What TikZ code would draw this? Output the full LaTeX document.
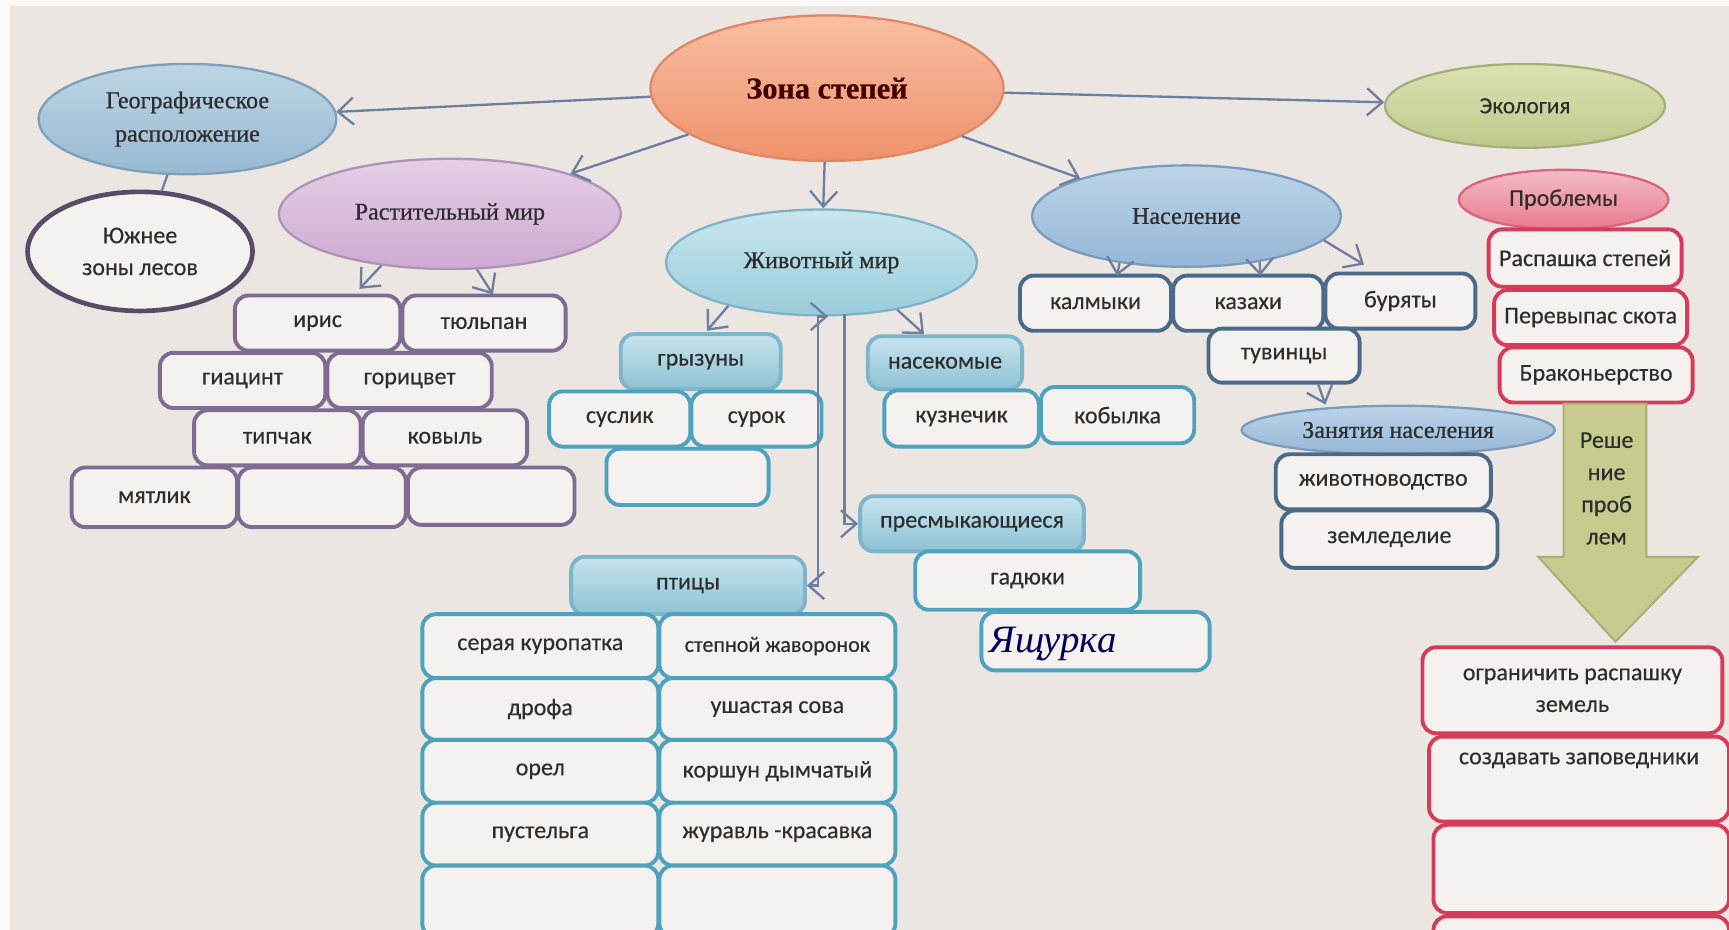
\documentclass[tikz,border=0pt]{standalone}
\usepackage{fontspec}
\setmainfont{Carlito}[FakeBold=0.35]
\newfontfamily\serf{Liberation Serif}[FakeBold=0.7]
\newfontfamily\hand{Liberation Serif}
\usetikzlibrary{shapes.geometric,arrows.meta}
\definecolor{bg}{HTML}{ECE6E2}
\definecolor{boxw}{HTML}{F4F1EF}
\definecolor{txt}{HTML}{2E2E2E}
\definecolor{cPurp}{HTML}{7E6C92}
\definecolor{cTeal}{HTML}{4FA2BE}
\definecolor{cTealH}{HTML}{7DB6CA}
\definecolor{cNavy}{HTML}{4B6A88}
\definecolor{cRed}{HTML}{D63C5A}
\definecolor{arr}{HTML}{6F7FA0}
\definecolor{tHi}{HTML}{C6E4EE}
\definecolor{tLo}{HTML}{8EC2D3}
\definecolor{zoHi}{HTML}{F8BFA2}
\definecolor{zoLo}{HTML}{F0916B}
\definecolor{zoB}{HTML}{DE8866}
\definecolor{geHi}{HTML}{BDD5E4}
\definecolor{geLo}{HTML}{97BAD2}
\definecolor{geB}{HTML}{7FA0BA}
\definecolor{raHi}{HTML}{E6CFE6}
\definecolor{raLo}{HTML}{CDAAD2}
\definecolor{raB}{HTML}{B094B8}
\definecolor{zhHi}{HTML}{C8E6EE}
\definecolor{zhLo}{HTML}{9ACCDB}
\definecolor{zhB}{HTML}{80B3C6}
\definecolor{naHi}{HTML}{BCD4E8}
\definecolor{naLo}{HTML}{95B7D6}
\definecolor{naB}{HTML}{7C9CBC}
\definecolor{ecHi}{HTML}{DCE2B4}
\definecolor{ecLo}{HTML}{BDC98A}
\definecolor{ecB}{HTML}{A6B07A}
\definecolor{prHi}{HTML}{F5BCC6}
\definecolor{prLo}{HTML}{E8798F}
\definecolor{prB}{HTML}{D8667E}
\definecolor{arF}{HTML}{C7CB8E}
\definecolor{arB}{HTML}{A9AE74}
\newcommand\bodyf{\fontsize{6.2}{8.2}\selectfont}
\newcommand\bx[7]{\node[#6, minimum width={(#4-#2)*0.01cm}, minimum height={(#5-#3)*0.01cm}] (#1) at ({(#2+#4)/2},{(#3+#5)/2}) {#7};}
\newcommand\el[7]{\node[el, #6, minimum width={2*#4*0.01cm}, minimum height={2*#5*0.01cm}] (#1) at (#2,#3) {#7};}
\tikzset{
  el/.style={ellipse, inner sep=0pt, line width=0.6pt, font=\serf\fontsize{6.2}{7.6}\selectfont, text=txt, align=center},
  pbox/.style={rounded corners=3.5pt, draw=cPurp, line width=1pt, fill=boxw, inner sep=0pt, font=\bodyf, text=txt, align=center},
  tbox/.style={pbox, draw=cTeal},
  thead/.style={pbox, draw=cTealH, top color=tHi, bottom color=tLo},
  nbox/.style={pbox, draw=cNavy},
  rbox/.style={pbox, draw=cRed},
  conn/.style={draw=arr, line width=0.6pt, -{Straight Barb[length=4pt,width=7pt]}},
  barb/.tip={Straight Barb[length=4pt,width=7pt]},
}
\begin{document}
\begin{tikzpicture}[x=0.01cm,y=-0.01cm]
\useasboundingbox (0,0) rectangle (1568,843);
\clip (0,0) rectangle (1568,843);
\fill[bg] (0,0) rectangle (1568,843);
\fill[white!80!bg] (0,0) rectangle (9,843);
\fill[white!80!bg] (0,0) rectangle (1568,5);

% ellipses
\el{zona}{750}{80}{160}{66}{draw=zoB, top color=zoHi, bottom color=zoLo, font=\serf\bfseries\fontsize{7.8}{9}\selectfont, text=black!75!red}{Зона степей}
\el{geo}{170}{108}{135}{50}{draw=geB, top color=geHi, bottom color=geLo}{Географическое\\[1pt]расположение}
\el{south}{127}{228}{102}{54}{draw=cPurp!70!black, line width=1.2pt, fill=boxw, font=\bodyf}{Южнее\\зоны лесов}
\el{rast}{408}{194}{155}{50}{draw=raB, top color=raHi, bottom color=raLo}{Растительный мир}
\el{zhiv}{745}{238}{141}{48}{draw=zhB, top color=zhHi, bottom color=zhLo}{Животный мир}
\el{nasel}{1076}{196}{140}{46}{draw=naB, top color=naHi, bottom color=naLo}{Население}
\el{eco}{1383}{96}{127}{38}{draw=ecB, top color=ecHi, bottom color=ecLo, font=\fontsize{6}{7}\selectfont}{Экология}
\el{prob}{1418}{181}{95}{27}{draw=prB, top color=prHi, bottom color=prLo, font=\fontsize{6.2}{7}\selectfont}{Проблемы}
\el{zan}{1268}{390}{142}{22}{draw=naB, top color=naHi, bottom color=naLo}{Занятия населения}

% plants
\bx{iris}{213}{268}{363}{318}{pbox}{ирис}
\bx{tulp}{365}{268}{513}{318}{pbox}{тюльпан}
\bx{giac}{145}{320}{295}{370}{pbox}{гиацинт}
\bx{goric}{297}{320}{446}{370}{pbox}{горицвет}
\bx{tipch}{176}{372}{327}{422}{pbox}{типчак}
\bx{kovyl}{329}{372}{478}{422}{pbox}{ковыль}
\bx{myatl}{65}{424}{215}{478}{pbox}{мятлик}
\bx{pe1}{216}{424}{368}{478}{pbox}{}
\bx{pe2}{370}{424}{521}{476}{pbox}{}

% animals
\bx{gryz}{563}{303}{708}{353}{thead}{грызуны}
\bx{susl}{498}{355}{626}{405}{tbox}{суслик}
\bx{surok}{627}{355}{745}{405}{tbox}{сурок}
\bx{te1}{550}{407}{697}{458}{tbox}{}
\bx{nasek}{787}{305}{927}{353}{thead}{насекомые}
\bx{kuzn}{802}{354}{942}{405}{tbox}{кузнечик}
\bx{kobyl}{944}{351}{1083}{402}{tbox}{кобылка}
\bx{presm}{780}{450}{983}{500}{thead}{пресмыкающиеся}
\bx{gad}{830}{500}{1034}{553}{tbox}{гадюки}
\bx{yash}{890}{555}{1097}{608}{tbox}{}
\node[font=\hand\itshape\fontsize{10}{11}\selectfont, text=blue!35!black] (yasht) at (955,584) {Ящурка};
\bx{ptitsy}{518}{505}{730}{557}{thead}{птицы}
\bx{b1}{383}{557}{597}{615}{tbox}{серая куропатка}
\bx{b2}{598}{557}{812}{615}{tbox,font=\fontsize{5.7}{7}\selectfont}{степной жаворонок}
\bx{b3}{383}{615}{597}{671}{tbox}{дрофа}
\bx{b4}{598}{615}{812}{671}{tbox}{ушастая сова}
\bx{b5}{383}{671}{597}{728}{tbox}{орел}
\bx{b6}{598}{671}{812}{728}{tbox}{коршун дымчатый}
\bx{b7}{383}{728}{597}{785}{tbox}{пустельга}
\bx{b8}{598}{728}{812}{785}{tbox}{журавль -красавка}
\bx{b9}{383}{785}{597}{850}{tbox}{}
\bx{b10}{598}{785}{812}{850}{tbox}{}

% population
\bx{kalm}{925}{250}{1062}{300}{nbox}{калмыки}
\bx{kaz}{1064}{250}{1200}{300}{nbox}{казахи}
\bx{bur}{1202}{248}{1338}{298}{nbox}{буряты}
\bx{tuv}{1096}{298}{1233}{347}{nbox}{тувинцы}
\bx{zhivot}{1157}{412}{1352}{462}{nbox}{животноводство}
\bx{zeml}{1162}{463}{1358}{515}{nbox}{земледелие}

% ecology
\bx{r1}{1350}{208}{1525}{260}{rbox}{Распашка степей}
\bx{r2}{1355}{263}{1530}{313}{rbox}{Перевыпас скота}
\bx{r3}{1360}{315}{1535}{365}{rbox}{Браконьерство}
\fill[arF, draw=arB, line width=0.5pt]
  (1418,366) -- (1493,366) -- (1493,505) -- (1540,505) -- (1465,582) -- (1395,505) -- (1418,505) -- cycle;
\node[text=txt, align=center, font=\fontsize{6.2}{8.3}\selectfont] (resh) at (1457,443) {Реше\\ние\\проб\\лем};
\bx{s1}{1290}{587}{1562}{665}{rbox}{ограничить распашку\\земель}
\bx{s2}{1296}{668}{1568}{745}{rbox}{создавать заповедники\\\strut}
\bx{s3}{1300}{748}{1568}{828}{rbox}{}
\bx{s4}{1300}{831}{1568}{880}{rbox}{}

% connectors
\draw[conn] (zona) -- (geo);
\draw[conn] (zona) -- (rast);
\draw[conn] (zona) -- (zhiv);
\draw[conn] (zona) -- (nasel);
\draw[conn] (zona) -- (eco);
\draw[draw=arr, line width=0.6pt] (geo) -- (south);

\coordinate (ra1) at (326,262);
\coordinate (ra2) at (447,267);
\draw[conn] (rast.217) -- (ra1);
\draw[conn] (rast.296) -- (ra2);

\coordinate (za1) at (641,300);
\coordinate (za2) at (838,303);
\draw[conn] (zhiv.205) -- (za1);
\draw[conn] (zhiv.328) -- (za2);
\coordinate (zl) at (751,287);
\coordinate (zr) at (766,285);
\draw[conn, barb-barb] (zl) -- ++(-9,0) |- (ptitsy.east);
\draw[conn] (zr) |- (presm.west);

\coordinate (na1) at (1013,250);
\coordinate (na2) at (1143,250);
\coordinate (na3) at (1237,240);
\draw[conn] (nasel.215) -- (na1);
\draw[conn] (nasel.328) -- (na2);
\draw[conn] (nasel.350) -- (na3);
\draw[conn] ([xshift=0.31cm]tuv.south) -- ([xshift=-0.66cm]zan.north);
\end{tikzpicture}
\end{document}
